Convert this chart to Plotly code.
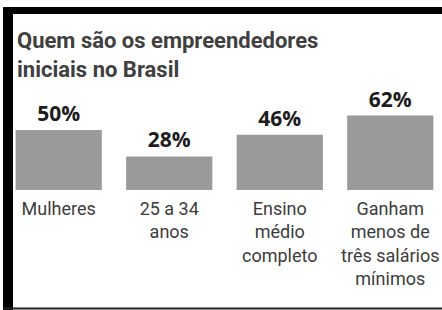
import plotly.graph_objects as go

categories = ["Mulheres", "25 a 34<br>anos", "Ensino<br>médio<br>completo",
              "Ganham<br>menos de<br>três salários<br>mínimos"]
values = [50, 28, 46, 62]
value_labels = ["50%", "28%", "46%", "62%"]
title_text = "Quem são os empreendedores<br>iniciais no Brasil"

W, H = 442, 310
L, R, T, B = 9, 2, 106, 120
pw, ph = W - L - R, H - T - B


def px(x):
    return (x - L) / pw


def py(y):
    return (H - B - y) / ph


fig = go.Figure(go.Bar(
    x=categories, y=values,
    text=value_labels, textposition="outside",
    textfont=dict(family="Open Sans", size=21, color="#1c1c1c", weight="bold"),
    marker=dict(color="#9a9a9a", line=dict(width=0)),
    cliponaxis=False, hoverinfo="skip",
))

fig.update_layout(
    width=W, height=H,
    margin=dict(l=L, r=R, t=T, b=B, autoexpand=False),
    paper_bgcolor="white", plot_bgcolor="white",
    bargap=0.22, showlegend=False,
    xaxis=dict(range=[-0.45, 3.45], showgrid=False, zeroline=False, showline=False,
               ticks="", ticklabelstandoff=6,
               tickfont=dict(family="Roboto", size=18, color="#3c3c3c")),
    yaxis=dict(range=[0, 70], visible=False),
    annotations=[dict(
        text=title_text, xref="paper", yref="paper",
        x=px(15), y=py(26), xanchor="left", yanchor="top", align="left",
        showarrow=False,
        font=dict(family="Roboto", size=22, color="#404040", weight="bold"),
    )],
    shapes=[
        dict(type="rect", xref="paper", yref="paper", x0=px(3), x1=px(442),
             y0=py(7), y1=py(14), fillcolor="black", line=dict(width=0), layer="above"),
        dict(type="rect", xref="paper", yref="paper", x0=px(3), x1=px(13),
             y0=py(7), y1=py(310), fillcolor="black", line=dict(width=0), layer="above"),
        dict(type="rect", xref="paper", yref="paper", x0=px(3), x1=px(442),
             y0=py(307.5), y1=py(309.5), fillcolor="#222", line=dict(width=0), layer="above"),
    ],
)

fig.write_html("out.html", config={"displayModeBar": False, "staticPlot": True},
               post_script="document.body.style.margin='0';document.body.style.overflow='hidden';")
